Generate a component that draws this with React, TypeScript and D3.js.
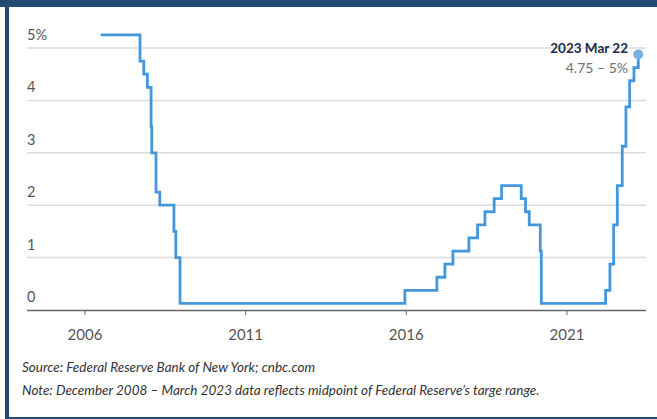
import React from "react";
import * as d3 from "d3";

const W = 657;
const H = 419;

const rateDates = [
  "2006-06-29", "2007-09-18", "2007-10-31", "2007-12-11", "2008-01-22", "2008-01-30",
  "2008-03-18", "2008-04-30", "2008-10-08", "2008-10-29", "2008-12-16", "2015-12-16",
  "2016-12-14", "2017-03-15", "2017-06-14", "2017-12-13", "2018-03-21", "2018-06-13",
  "2018-09-26", "2018-12-19", "2019-07-31", "2019-09-18", "2019-10-30", "2020-03-03",
  "2020-03-15", "2022-03-16", "2022-05-04", "2022-06-15", "2022-07-27", "2022-09-21",
  "2022-11-02", "2022-12-14", "2023-02-01", "2023-03-22",
];
const rateValues = [
  5.25, 4.75, 4.5, 4.25, 3.5, 3.0,
  2.25, 2.0, 1.5, 1.0, 0.125, 0.375,
  0.625, 0.875, 1.125, 1.375, 1.625, 1.875,
  2.125, 2.375, 2.125, 1.875, 1.625, 1.125,
  0.125, 0.375, 0.875, 1.625, 2.375, 3.125,
  3.875, 4.375, 4.625, 4.875,
];
const yTicks = [0, 1, 2, 3, 4, 5];
const xTickYears = [2006, 2011, 2016, 2021];
const annotationTitle = "2023 Mar 22";
const annotationValue = "4.75 – 5%";
const sourceText = "Source: Federal Reserve Bank of New York; cnbc.com";
const noteText = "Note: December 2008 – March 2023 data reflects midpoint of Federal Reserve’s targe range.";

const FONT = "Lato, 'Open Sans', sans-serif";

export default function App() {
  const parse = d3.timeParse("%Y-%m-%d");
  const data = rateDates.map((d, i) => ({ date: parse(d) as Date, value: rateValues[i] }));

  const x = d3
    .scaleTime()
    .domain([new Date(2006, 0, 1), new Date(2021, 0, 1)])
    .range([85, 567]);
  const y = d3.scaleLinear().domain([0, 5]).range([310, 48]);

  const line = d3
    .line<{ date: Date; value: number }>()
    .x((d) => x(d.date))
    .y((d) => y(d.value))
    .curve(d3.curveStepAfter);

  const last = data[data.length - 1];
  const gridX0 = 27;
  const gridX1 = 646;

  return (
    <svg
      width={W}
      height={H}
      style={{ position: "fixed", left: 0, top: 0, background: "#fff" }}
    >
      <rect x={0} y={0} width={W} height={H} fill="#fff" />
      {/* frame */}
      <rect x={0} y={0} width={W} height={7} fill="#234a71" />
      <rect x={5} y={0} width={4} height={H} fill="#234a71" />
      <rect x={5} y={417} width={W - 5} height={2} fill="#234a71" />

      {/* gridlines */}
      {yTicks.filter((t) => t > 0).map((t) => (
        <line key={t} x1={gridX0} x2={gridX1} y1={y(t)} y2={y(t)} stroke="#dcdcdc" strokeWidth={1.5} />
      ))}
      {/* y labels */}
      {yTicks.map((t) => (
        <text
          key={"l" + t}
          x={27}
          y={y(t) - 8}
          fontFamily={FONT}
          fontSize={14.5}
          fill="#555"
        >
          {t === 5 ? `${t}%` : `${t}`}
        </text>
      ))}

      {/* x axis */}
      <line x1={gridX0} x2={gridX1} y1={310.5} y2={310.5} stroke="#666" strokeWidth={1.5} />
      {xTickYears.map((yr) => {
        const xx = x(new Date(yr, 0, 1));
        return (
          <g key={yr}>
            <line x1={xx} x2={xx} y1={311} y2={315} stroke="#666" strokeWidth={1} />
            <text x={xx} y={340} textAnchor="middle" fontFamily={FONT} fontSize={15} fill="#555">
              {yr}
            </text>
          </g>
        );
      })}

      {/* line */}
      <path d={line(data) || ""} fill="none" stroke="#4597db" strokeWidth={2.8} strokeLinejoin="miter" />
      <circle cx={x(last.date)} cy={y(last.value)} r={5} fill="#79b0e2" />

      {/* annotation */}
      <text x={628} y={53} textAnchor="end" fontFamily={FONT} fontSize={13.5} fontWeight={700} fill="#1c2b4b">
        {annotationTitle}
      </text>
      <text x={628} y={73} textAnchor="end" fontFamily={FONT} fontSize={14} fill="#6a7282">
        {annotationValue}
      </text>

      {/* footer */}
      <text x={22} y={372} fontFamily={FONT} fontSize={13.5} fontStyle="italic" fill="#333">
        {sourceText}
      </text>
      <text x={22} y={395} fontFamily={FONT} fontSize={13.5} fontStyle="italic" fill="#333">
        {noteText}
      </text>
    </svg>
  );
}
